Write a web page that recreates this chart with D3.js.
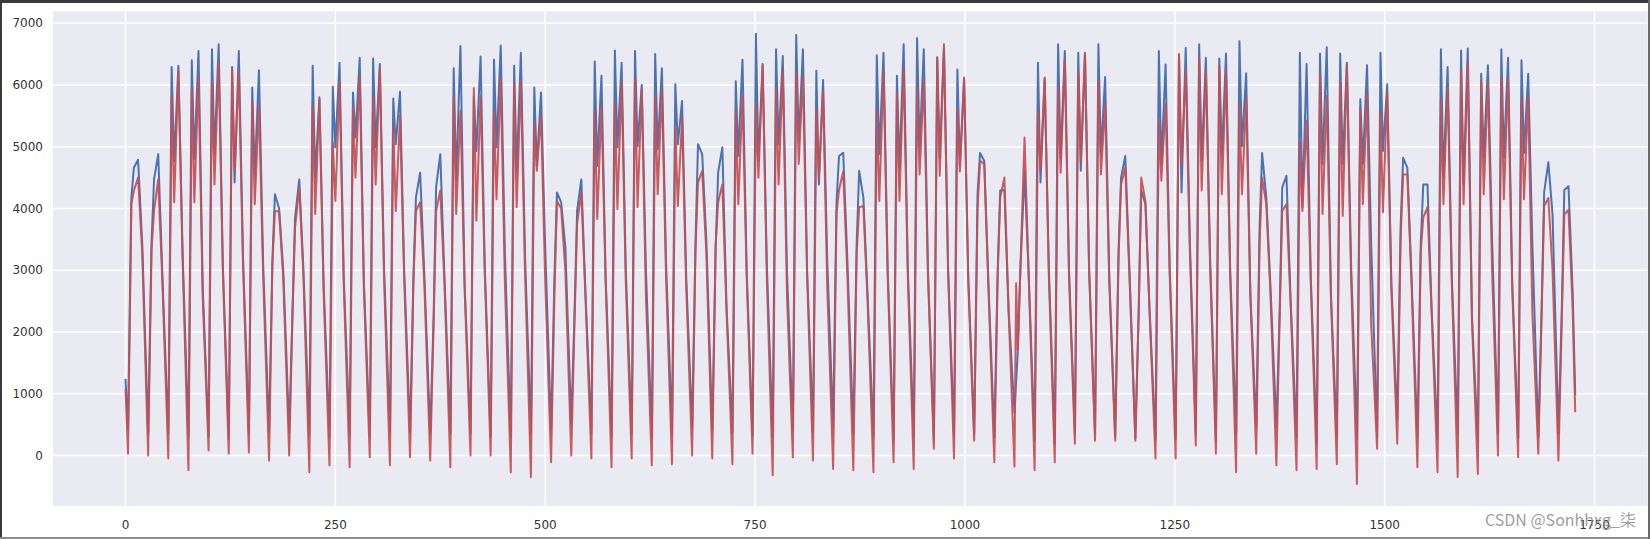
<!DOCTYPE html>
<html lang="en">
  <head>
    <meta charset="UTF-8" />
    <title>Actual vs predicted</title>
    <script src="https://d3js.org/d3.v7.min.js"></script>
    <style>
      body {
        margin: 0;
        background: #fff;
      }
      .tick-label {
        font: 12px "DejaVu Sans", sans-serif;
        fill: #333;
      }
      .watermark {
        font: 16px "Noto Sans CJK SC", "DejaVu Sans", sans-serif;
        fill: #8a8a8a;
        fill-opacity: 0.85;
      }
    </style>
  </head>
  <body>
    <svg width="1650" height="539"></svg>
    <script>
      // hours of the day at which each daily value was read
      var hours = [3, 7, 10, 15, 20];

      // actual (blue): one row per day -> [trough, first peak, dip, second peak, evening]
      var actualDays = [
        [430, 4180, 4660, 4790, 3420], [350, 3420, 4470, 4880, 2900],
        [350, 6290, 4770, 6310, 3300], [300, 6400, 4800, 6550, 2720],
        [300, 6580, 4880, 6660, 3070], [270, 6290, 4420, 6550, 3210],
        [350, 5960, 4550, 6240, 3100], [380, 3150, 4230, 4000, 2990],
        [380, 2350, 3850, 4470, 3000], [350, 6310, 4500, 5800, 2780],
        [300, 5970, 4990, 6360, 2880], [350, 5880, 5150, 6440, 2800],
        [320, 6430, 4990, 6340, 3050], [380, 5780, 5040, 5890, 2990],
        [380, 2880, 4180, 4580, 2940], [350, 2200, 4340, 4880, 2880],
        [350, 6270, 4450, 6630, 2780], [350, 5820, 4930, 6460, 3050],
        [300, 6410, 4990, 6640, 3260], [300, 6310, 4610, 6520, 3210],
        [350, 5960, 4690, 5880, 3370], [400, 2880, 4260, 4100, 3370],
        [510, 2350, 3960, 4470, 2610], [350, 6380, 4690, 6150, 2880],
        [300, 6560, 4990, 6360, 3000], [350, 6550, 5010, 6000, 2990],
        [300, 6500, 4960, 6270, 3100], [380, 6010, 5040, 5740, 2880],
        [460, 3420, 5040, 4880, 3480], [400, 3320, 4580, 4990, 2400],
        [380, 6060, 4850, 6410, 2990], [320, 6830, 4770, 6340, 3100],
        [300, 6580, 5040, 6470, 2990], [400, 6810, 5090, 6580, 2990],
        [380, 6230, 4390, 6080, 3150], [460, 4100, 4850, 4900, 3150],
        [350, 3420, 4610, 4180, 2610], [300, 6480, 4880, 6520, 2990],
        [240, 6150, 4640, 6660, 2990], [300, 6760, 4990, 6580, 2990],
        [240, 6450, 4820, 6600, 2990], [320, 6250, 4700, 6100, 2880],
        [350, 4230, 4900, 4770, 2780], [300, 2990, 4290, 4300, 2350],
        [700, 1700, 3000, 4600, 2900], [240, 6360, 4420, 6100, 2990],
        [190, 6660, 4820, 6550, 2990], [350, 6520, 4610, 6500, 3000],
        [350, 6660, 4880, 6130, 2880], [300, 3320, 4500, 4850, 2990],
        [270, 2350, 4290, 4070, 2350], [240, 6550, 4720, 6330, 2990],
        [270, 6480, 4260, 6600, 3420], [350, 6660, 4770, 6440, 3200],
        [240, 6430, 4850, 6510, 2990], [350, 6710, 5010, 6190, 2610],
        [460, 3690, 4900, 4180, 2720], [460, 2350, 4340, 4530, 2510],
        [300, 6520, 4020, 6340, 2880], [190, 6510, 4720, 6610, 2610],
        [270, 6510, 4720, 6360, 3100], [270, 5770, 4720, 6320, 3400],
        [300, 6520, 4930, 6010, 2780], [590, 3690, 4820, 4660, 2880],
        [300, 3420, 4390, 4390, 2350], [270, 6580, 4500, 6290, 2880],
        [350, 6560, 4390, 6590, 2240], [240, 6180, 4820, 6320, 3480],
        [350, 6580, 4820, 6440, 2780], [270, 6400, 4900, 6180, 3400],
        [300, 2370, 4260, 4750, 3900], [360, 2350, 4300, 4360, 2640]
      ];

      // predicted (red), same layout
      var predictedDays = [
        [30, 4070, 4290, 4500, 3260], [0, 3320, 3960, 4470, 2800],
        [-50, 5820, 4100, 6230, 3200], [-240, 5960, 4100, 6120, 2560],
        [80, 6040, 4390, 6360, 2990], [30, 6250, 4610, 6230, 3100],
        [50, 5740, 4070, 5660, 2910], [-80, 3100, 3960, 3950, 2850],
        [0, 2300, 3690, 4340, 2900], [-270, 5660, 3910, 5770, 2670],
        [-160, 5070, 4120, 6040, 2780], [-190, 5630, 4500, 6150, 2700],
        [-30, 5810, 4390, 6280, 2880], [-160, 5340, 3960, 5500, 2880],
        [-30, 2800, 3960, 4100, 2780], [-80, 2100, 3960, 4290, 2780],
        [-190, 5820, 3910, 5580, 2700], [0, 5950, 3800, 5820, 2950],
        [0, 5580, 4150, 6120, 2780], [-270, 6020, 4020, 6060, 2940],
        [-350, 5390, 4610, 5510, 2830], [-110, 2610, 4120, 4000, 2990],
        [0, 2200, 3750, 4260, 2550], [-50, 5580, 3830, 5660, 2800],
        [-190, 5710, 3990, 6050, 2800], [-50, 6120, 4020, 5940, 2560],
        [-160, 5820, 4230, 5930, 2880], [-140, 5310, 4040, 5470, 2720],
        [0, 3300, 4420, 4610, 3260], [-50, 3420, 4100, 4390, 2350],
        [-140, 5580, 4070, 5820, 2900], [30, 5690, 4500, 6320, 2880],
        [-320, 5950, 4390, 6230, 2610], [-30, 6200, 4720, 6150, 2900],
        [-80, 5610, 4500, 5900, 2720], [-220, 3900, 4300, 4600, 2900],
        [-240, 3260, 4020, 4040, 2510], [-270, 5580, 4120, 6230, 2900],
        [-110, 5880, 4120, 6280, 2880], [-220, 5960, 4550, 6090, 2880],
        [110, 6440, 4530, 6660, 2950], [-50, 5610, 4600, 6120, 2800],
        [240, 3960, 4770, 4720, 2720], [-110, 2900, 4180, 4500, 2350],
        [-180, 1710, 3000, 5150, 2900], [-240, 5580, 4610, 6120, 2900],
        [-110, 5960, 4580, 6410, 2900], [190, 6210, 4740, 6520, 2950],
        [240, 6060, 4550, 5690, 2800], [240, 3200, 4390, 4660, 2900],
        [240, 2300, 4500, 4120, 2300], [-50, 5420, 4450, 5690, 2900],
        [-50, 6500, 4720, 6240, 3300], [160, 6440, 4290, 6230, 3100],
        [30, 6310, 4230, 6210, 2900], [-270, 5690, 4230, 5790, 2600],
        [30, 3420, 4500, 4070, 2610], [-160, 2300, 3960, 4070, 2450],
        [-240, 5090, 3960, 5420, 2800], [-220, 6170, 3910, 5820, 2550],
        [-140, 6060, 3880, 6330, 2880], [-460, 5630, 4070, 5850, 2100],
        [110, 5580, 3940, 5880, 2700], [190, 3500, 4550, 4550, 2800],
        [-190, 3300, 3850, 4020, 2300], [-270, 5770, 4070, 5960, 2800],
        [-350, 6220, 4070, 6360, 2200], [-300, 6060, 4230, 6040, 3000],
        [0, 6120, 4150, 6090, 2700], [-30, 5790, 4150, 5810, 2300],
        [30, 2300, 4040, 4170, 3000], [-80, 2200, 3900, 3980, 2360]
      ];

      // first and last samples, and odd points off the daily pattern
      var actualEnds = [[0, 1240], [1727, 975]];
      var predictedEnds = [[0, 1080], [1727, 700]];
      var predictedExtra = [[1061, 2790]];

      var xTicks = [0, 250, 500, 750, 1000, 1250, 1500, 1750];
      var yTicks = [0, 1000, 2000, 3000, 4000, 5000, 6000, 7000];

      function buildSeries(days, ends, extra) {
        var pts = ends.slice().concat(extra || []);
        days.forEach(function (row, d) {
          row.forEach(function (v, i) {
            pts.push([d * 24 + hours[i], v]);
          });
        });
        return pts.sort(function (a, b) {
          return a[0] - b[0];
        });
      }

      var actual = buildSeries(actualDays, actualEnds);
      var predicted = buildSeries(predictedDays, predictedEnds, predictedExtra);

      var svg = d3.select("svg");

      var plotLeft = 53, plotRight = 1647.7, plotTop = 11.3, plotBottom = 506;
      var x = d3.scaleLinear().domain([-86.35, 1813.35]).range([plotLeft, plotRight]);
      var y = d3.scaleLinear().domain([-818, 7193]).range([plotBottom, plotTop]);

      // plot background
      svg
        .append("rect")
        .attr("x", plotLeft)
        .attr("y", plotTop)
        .attr("width", plotRight - plotLeft)
        .attr("height", plotBottom - plotTop)
        .attr("fill", "#eaeaf2");

      // grid
      svg
        .append("g")
        .selectAll("line")
        .data(yTicks)
        .enter()
        .append("line")
        .attr("x1", plotLeft)
        .attr("x2", plotRight)
        .attr("y1", function (d) { return y(d); })
        .attr("y2", function (d) { return y(d); })
        .attr("stroke", "#fff")
        .attr("stroke-width", 1.5);

      svg
        .append("g")
        .selectAll("line")
        .data(xTicks)
        .enter()
        .append("line")
        .attr("y1", plotTop)
        .attr("y2", plotBottom)
        .attr("x1", function (d) { return x(d); })
        .attr("x2", function (d) { return x(d); })
        .attr("stroke", "#fff")
        .attr("stroke-width", 1.5);

      // tick labels
      svg
        .append("g")
        .selectAll("text")
        .data(yTicks)
        .enter()
        .append("text")
        .attr("class", "tick-label")
        .attr("x", 43)
        .attr("y", function (d) { return y(d); })
        .attr("dy", "0.35em")
        .attr("text-anchor", "end")
        .text(function (d) { return d; });

      svg
        .append("g")
        .selectAll("text")
        .data(xTicks)
        .enter()
        .append("text")
        .attr("class", "tick-label")
        .attr("x", function (d) { return x(d); })
        .attr("y", 528.5)
        .attr("text-anchor", "middle")
        .text(function (d) { return d; });

      // lines
      var line = d3
        .line()
        .x(function (d) { return x(d[0]); })
        .y(function (d) { return y(d[1]); });

      svg
        .append("path")
        .datum(actual)
        .attr("d", line)
        .attr("fill", "none")
        .attr("stroke", "#4c72b0")
        .attr("stroke-width", 2)
        .attr("stroke-linejoin", "round");

      svg
        .append("path")
        .datum(predicted)
        .attr("d", line)
        .attr("fill", "none")
        .attr("stroke", "#c44e52")
        .attr("stroke-opacity", 0.92)
        .attr("stroke-width", 2)
        .attr("stroke-linejoin", "round");

      // watermark
      svg
        .append("text")
        .attr("class", "watermark")
        .attr("x", 1485)
        .attr("y", 526)
        .text("CSDN @Sonhhxg_柒");

      // screenshot frame
      svg.append("rect").attr("x", 0).attr("y", 0).attr("width", 1650).attr("height", 3).attr("fill", "#3a3a3a");
      svg.append("rect").attr("x", 0).attr("y", 0).attr("width", 2).attr("height", 539).attr("fill", "#3a3a3a");
      svg.append("rect").attr("x", 0).attr("y", 537).attr("width", 1650).attr("height", 2).attr("fill", "#8c8c8c");
      svg.append("rect").attr("x", 1648).attr("y", 0).attr("width", 2).attr("height", 539).attr("fill", "#6a6a6a");
    </script>
  </body>
</html>
